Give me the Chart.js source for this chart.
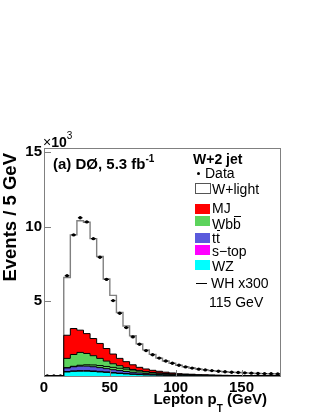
<!DOCTYPE html>
<html>
<head>
<meta charset="utf-8">
<script src="https://cdn.jsdelivr.net/npm/chart.js@4.4.0/dist/chart.umd.min.js"></script>
<style>
  html, body { margin: 0; padding: 0; background: #fff; }
  #wrap {
    position: relative; width: 319px; height: 412px; overflow: hidden;
    font-family: "Liberation Sans", Arial, Helvetica, sans-serif; color: #000;
  }
  #chart { position: absolute; left: 0; top: 0; }
  .t { position: absolute; white-space: nowrap; line-height: 1; font-size: 14px; }
  .b { font-weight: bold; }
  .box { position: absolute; width: 15px; height: 10px; }
  .bar { display: inline-block; position: relative; }
  .bar::after { content: ""; position: absolute; left: 1px; right: 0; top: -1px; height: 1px; background: #000; }
  sup, sub { line-height: 0; }
</style>
</head>
<body>
<div id="wrap">
  <canvas id="chart" width="319" height="412"></canvas>

  <div class="t" style="left:43px;top:135px;font-size:14px;">&times;<b>10</b><sup style="font-size:10px;position:relative;top:-2px;">3</sup></div>
  <div class="t b" style="left:53px;top:156px;font-size:15px;">(a) DØ, 5.3 fb<sup style="font-size:10px;position:relative;top:-1px;">-1</sup></div>

  <div class="t b" style="left:1px;top:293px;width:140px;text-align:right;font-size:18.5px;transform-origin:0 0;transform:rotate(-90deg);">Events / 5 GeV</div>
  <div class="t b" style="right:52px;top:391px;font-size:15px;">Lepton p<sub style="font-size:10px;position:relative;top:4px;">T</sub> (GeV)</div>

  <!-- legend -->
  <div class="t b" style="left:193px;top:152px;">W+2 jet</div>
  <div style="position:absolute;left:196.5px;top:171.5px;width:3px;height:3px;border-radius:50%;background:#000;"></div>
  <div class="t" style="left:205px;top:166px;">Data</div>
  <div class="box" style="left:195px;top:183px;width:14px;height:9px;border:1px solid #555;background:#fff;"></div>
  <div class="t" style="left:212px;top:181.5px;">W+light</div>
  <div class="box" style="left:195px;top:204px;background:#ff0000;"></div>
  <div class="t" style="left:212px;top:201px;">MJ</div>
  <div class="box" style="left:195px;top:215.5px;background:#5cd35c;"></div>
  <div class="t" style="left:212px;top:217px;">Wb<span class="bar">b</span></div>
  <div class="box" style="left:195px;top:232.5px;background:#5a5adc;"></div>
  <div class="t" style="left:212px;top:230.5px;">t<span class="bar">t</span></div>
  <div class="box" style="left:195px;top:245px;background:#ff00ff;"></div>
  <div class="t" style="left:212px;top:244px;">s−top</div>
  <div class="box" style="left:195px;top:260px;background:#00ffff;"></div>
  <div class="t" style="left:212px;top:259px;">WZ</div>
  <div style="position:absolute;left:196px;top:283px;width:11px;height:1px;background:#000;"></div>
  <div class="t" style="left:211px;top:276px;">WH x300</div>
  <div class="t" style="left:209px;top:295px;">115 GeV</div>
</div>

<script>
// lepton pT histogram, 5 GeV bins, values in thousands of events
const BIN_WIDTH = 5;
const X_MAX = 180;
const binLow = [0, 5, 10, 15, 20, 25, 30, 35, 40, 45, 50, 55, 60, 65, 70, 75, 80, 85,
  90, 95, 100, 105, 110, 115, 120, 125, 130, 135, 140, 145, 150, 155, 160, 165, 170, 175];

const wzEvents = [0, 0, 0, .27, .31, .32, .32, .30, .27, .24, .20, .17, .14, .11, .09, .07, .06, .05,
  .04, .03, .02, .02, .02, .01, .01, .01, .008, .007, .006, .005, .004, .004, .003, .003, .002, .002];
const stopEvents = [0, 0, 0, .03, .03, .04, .04, .04, .04, .03, .03, .02, .02, .02, .01, .01, .01, .005,
  .005, .005, .004, .003, .003, .002, .002, .002, .001, .001, .001, .001, .001, .001, .001, .001, .001, .001];
const ttEvents = [0, 0, 0, .25, .28, .30, .30, .28, .25, .22, .19, .17, .14, .12, .10, .08, .06, .05,
  .04, .03, .02, .02, .015, .012, .01, .008, .007, .006, .005, .004, .004, .003, .003, .002, .002, .002];
const wbbEvents = [0, 0, 0, .63, .82, .92, .85, .74, .62, .51, .40, .33, .26, .19, .15, .12, .09, .08,
  .06, .05, .04, .03, .03, .02, .02, .015, .012, .01, .009, .008, .007, .006, .005, .004, .004, .003];
const mjEvents = [0, 0, 0, 1.55, 1.74, 1.49, 1.33, 1.15, 1.00, .84, .65, .49, .40, .31, .23, .19, .16, .13,
  .11, .09, .07, .06, .05, .04, .035, .03, .025, .02, .018, .015, .013, .011, .01, .009, .008, .007];
const wlightEvents = [0, 0, 0, 3.87, 6.27, 7.33, 7.46, 6.69, 5.82, 4.66, 3.93, 3.07, 2.39, 1.95, 1.57, 1.28, 1.07, .885,
  .745, .645, .566, .487, .42, .386, .333, .295, .267, .236, .211, .197, .181, .165, .148, .141, .133, .125];
const whEvents = [0, 0, 0, .55, .65, .72, .75, .74, .70, .64, .58, .52, .46, .40, .34, .29, .24, .20,
  .17, .14, .12, .10, .085, .07, .06, .05, .04, .035, .03, .025, .02, .018, .015, .012, .01, .008];
const dataEvents = [0, 0, 0, 6.72, 9.45, 10.6, 10.32, 9.2, 7.95, 6.47, 5.05, 4.2, 3.24, 2.62, 2.13, 1.7, 1.42, 1.2,
  1.0, 0.85, 0.72, 0.61, 0.53, 0.46, 0.41, 0.36, 0.32, 0.28, 0.25, 0.23, 0.21, 0.19, 0.17, 0.16, 0.15, 0.14];

const xTicks = [0, 50, 100, 150];
const yTicks = [0, 5, 10, 15];

const FONT = "'Liberation Sans', Arial, Helvetica, sans-serif";
const AXIS_GRAY = "#808080";

function stepPoints(values) {
  const pts = binLow.map((x, i) => ({ x, y: values[i] }));
  pts.push({ x: X_MAX, y: values[values.length - 1] });
  return pts;
}

function bkg(label, values, color, fill, border, width) {
  return {
    label,
    data: stepPoints(values),
    stack: "bkg",
    stepped: "before",
    fill,
    backgroundColor: color,
    borderColor: border || "#000",
    borderWidth: width || 1,
    pointRadius: 0,
  };
}

// horizontal bars on data points, inward ticks and the frame
const rootStyle = {
  id: "rootStyle",
  afterDatasetsDraw(chart) {
    const { ctx, scales } = chart;
    const meta = chart.getDatasetMeta(0);
    const half = (scales.x.getPixelForValue(BIN_WIDTH) - scales.x.getPixelForValue(0)) * 0.35;
    ctx.save();
    ctx.strokeStyle = "#000";
    ctx.lineWidth = 1.2;
    meta.data.forEach((pt) => {
      ctx.beginPath();
      ctx.moveTo(pt.x - half, pt.y);
      ctx.lineTo(pt.x + half, pt.y);
      ctx.stroke();
    });
    ctx.restore();
  },
  afterDraw(chart) {
    const { ctx, chartArea: a, scales } = chart;
    ctx.save();
    ctx.strokeStyle = AXIS_GRAY;
    ctx.lineWidth = 1;
    ctx.strokeRect(Math.round(a.left) + 0.5, Math.round(a.top) + 0.5,
      Math.round(a.right - a.left) - 1, Math.round(a.bottom - a.top));
    ctx.beginPath();
    yTicks.forEach((v) => {
      const y = Math.round(scales.y.getPixelForValue(v)) + 0.5;
      ctx.moveTo(a.left, y);
      ctx.lineTo(a.left + 7, y);
    });
    xTicks.forEach((v) => {
      const x = Math.round(scales.x.getPixelForValue(v)) + 0.5;
      ctx.moveTo(x, a.bottom);
      ctx.lineTo(x, a.bottom - 6);
    });
    ctx.stroke();
    ctx.restore();
  },
};

const ctx = document.getElementById("chart").getContext("2d");
new Chart(ctx, {
  type: "line",
  data: {
    datasets: [
      {
        label: "Data",
        data: binLow.map((x, i) => ({ x: x + BIN_WIDTH / 2, y: dataEvents[i] })),
        stack: "data",
        showLine: false,
        pointRadius: 1.7,
        pointBackgroundColor: "#000",
        pointBorderWidth: 0,
      },
      {
        label: "WH x300",
        data: stepPoints(whEvents),
        stack: "wh",
        stepped: "before",
        fill: false,
        borderColor: "#000",
        borderWidth: 1,
        pointRadius: 0,
      },
      bkg("WZ", wzEvents, "#00ffff", "origin"),
      bkg("s-top", stopEvents, "#ff00ff", "-1"),
      bkg("ttbar", ttEvents, "#5a5adc", "-1"),
      bkg("Wbb", wbbEvents, "#5cd35c", "-1"),
      bkg("MJ", mjEvents, "#ff0000", "-1"),
      bkg("W+light", wlightEvents, "#ffffff", "-1", AXIS_GRAY, 1.4),
    ],
  },
  options: {
    responsive: false,
    animation: false,
    layout: { padding: { left: 0, right: 38, top: 148, bottom: 0 } },
    plugins: { legend: { display: false }, tooltip: { enabled: false } },
    scales: {
      x: {
        type: "linear",
        min: 0,
        max: X_MAX,
        afterBuildTicks: (s) => { s.ticks = xTicks.map((v) => ({ value: v })); },
        ticks: { color: "#000", padding: 3, font: { family: FONT, size: 15, weight: "bold" } },
        grid: { display: false, drawTicks: false },
        border: { display: false },
        afterFit: (s) => { s.height = 36; },
      },
      y: {
        stacked: true,
        min: 0,
        max: 15.27,
        afterBuildTicks: (s) => { s.ticks = yTicks.map((v) => ({ value: v })); },
        ticks: {
          color: "#000",
          padding: 2,
          font: { family: FONT, size: 15, weight: "bold" },
          callback: (v) => (v === 0 ? "" : v),
        },
        grid: { display: false, drawTicks: false },
        border: { display: false },
        afterFit: (s) => { s.width = 44; },
      },
    },
  },
  plugins: [rootStyle],
});
</script>
</body>
</html>
